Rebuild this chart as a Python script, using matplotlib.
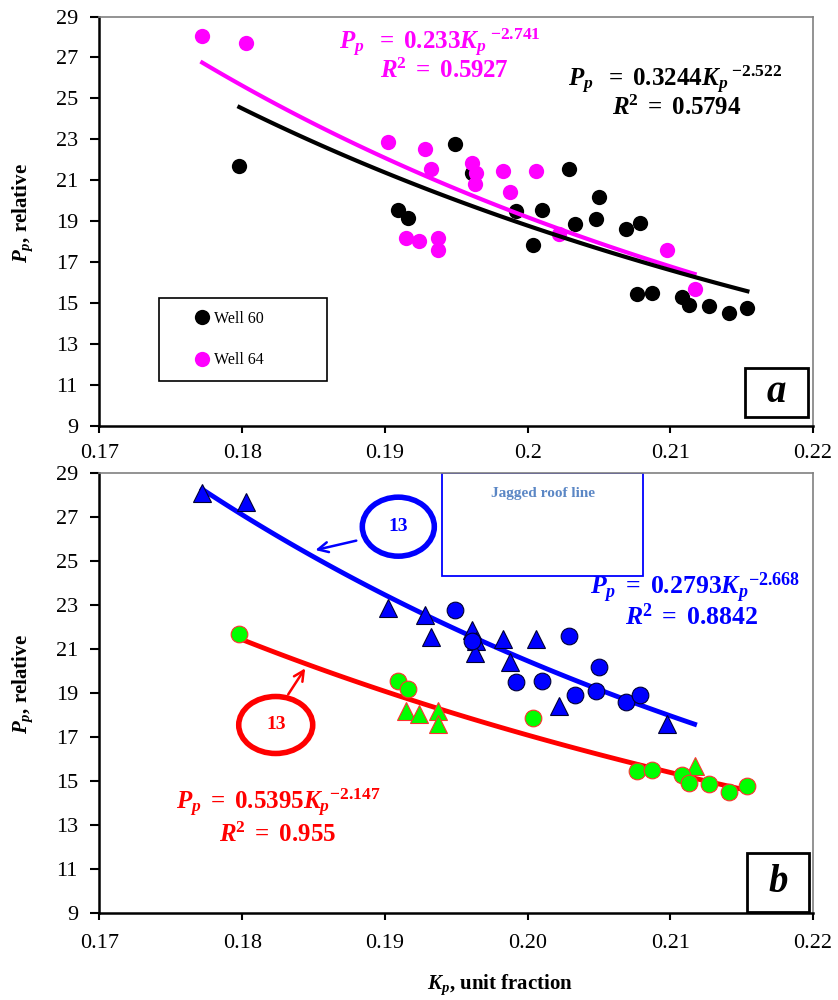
import numpy as np
import matplotlib
matplotlib.use('Agg')
import matplotlib.pyplot as plt
from matplotlib.patches import Ellipse, Rectangle

plt.rcParams['font.family'] = ['Liberation Serif', 'DejaVu Serif']
plt.rcParams['mathtext.fontset'] = 'custom'
plt.rcParams['mathtext.rm'] = 'Liberation Serif'
plt.rcParams['mathtext.it'] = 'Liberation Serif:italic'
plt.rcParams['mathtext.bf'] = 'Liberation Serif:bold'
plt.rcParams['mathtext.bfit'] = 'Liberation Serif:italic:bold'

# Well 60 (black in panel a); upper flags = points that go to the blue group in panel b
well60_kp = [0.1798, 0.1909, 0.1916, 0.1949, 0.1961, 0.1992, 0.2010, 0.2004, 0.2029, 0.2033, 0.2048,
             0.2050, 0.2069, 0.2079, 0.2077, 0.2087, 0.2108, 0.2113, 0.2127, 0.2141, 0.2154]
well60_pp = [21.68, 19.54, 19.16, 22.79, 21.36, 19.49, 19.54, 17.86, 21.57, 18.89, 19.10,
             20.19, 18.60, 18.92, 15.44, 15.52, 15.28, 14.90, 14.87, 14.50, 14.77]
well60_upper = [0, 0, 0, 1, 1, 1, 1, 0, 1, 1, 1, 1, 1, 1, 0, 0, 0, 0, 0, 0, 0]

# Well 64 (magenta in panel a)
well64_kp = [0.1772, 0.1803, 0.1902, 0.1928, 0.1932, 0.1915, 0.1924, 0.1937, 0.1937, 0.1961, 0.1964,
             0.1963, 0.1983, 0.2006, 0.1988, 0.2022, 0.2098, 0.2117]
well64_pp = [28.07, 27.70, 22.87, 22.55, 21.54, 18.16, 18.04, 18.19, 17.59, 21.86, 21.37,
             20.84, 21.45, 21.45, 20.43, 18.40, 17.59, 15.68]
well64_upper = [1, 1, 1, 1, 1, 0, 0, 0, 0, 1, 1, 1, 1, 1, 1, 1, 1, 0]

# power-law fits  Pp = a * Kp^b
fit60_a, fit60_b = 0.3244, -2.522
fit64_a, fit64_b = 0.233, -2.741
fit_blue_a, fit_blue_b = 0.2793, -2.668
fit_red_a, fit_red_b = 0.5395, -2.147

kp_ticks = [0.17, 0.18, 0.19, 0.20, 0.21, 0.22]
top_xlabels = ['0.17', '0.18', '0.19', '0.2', '0.21', '0.22']
bot_xlabels = ['0.17', '0.18', '0.19', '0.20', '0.21', '0.22']
pp_ticks = list(range(9, 30, 2))

k60 = np.array(well60_kp); p60 = np.array(well60_pp); u60 = np.array(well60_upper, bool)
k64 = np.array(well64_kp); p64 = np.array(well64_pp); u64 = np.array(well64_upper, bool)


def power_curve(kp, a, b):
    x = np.linspace(kp.min(), kp.max(), 100)
    return x, a * x ** b


def style_axes(ax, xlabels, xpad):
    ax.set_xlim(0.17, 0.22)
    ax.set_ylim(9, 29)
    ax.set_xticks(kp_ticks)
    ax.set_xticklabels(xlabels)
    ax.set_yticks(pp_ticks)
    ax.tick_params(axis='x', direction='out', length=5, width=1.5, labelsize=16, pad=xpad)
    ax.tick_params(axis='y', direction='out', length=6.5, width=1.5, labelsize=16, pad=9)
    for s in ['left', 'bottom']:
        ax.spines[s].set_linewidth(1.8)
    for s in ['top', 'right']:
        ax.spines[s].set_color('#808080')
        ax.spines[s].set_linewidth(1.2)
    ax.set_ylabel(r'$\mathbfit{P_p}$, relative', fontsize=15, fontweight='bold')
    ax.yaxis.set_label_coords(-0.09, 0.52)


fig = plt.figure(figsize=(8.38, 10), dpi=100)
ax1 = fig.add_axes([0.1187, 0.574, 0.8515, 0.4095])
ax2 = fig.add_axes([0.1187, 0.087, 0.8515, 0.44])

# ---- panel a
ax1.plot(k60, p60, 'o', color='black', ms=11, mec='none', label='Well 60')
ax1.plot(k64, p64, 'o', color='#ff00ff', ms=11, mec='none', label='Well 64')
x, y = power_curve(k64, fit64_a, fit64_b)
ax1.plot(x, y, color='#ff00ff', lw=3)
x, y = power_curve(k60, fit60_a, fit60_b)
ax1.plot(x, y, color='black', lw=3)
style_axes(ax1, top_xlabels, 8)

ax1.add_patch(Rectangle((0.0838, 0.1092), 0.2346, 0.2042, transform=ax1.transAxes,
                        fill=False, ec='black', lw=1.2))
ax1.legend(loc='center left', bbox_to_anchor=(0.1324, 0.2108), frameon=False, fontsize=11.5,
           borderpad=0, borderaxespad=0, handlelength=1.0, handletextpad=0.25,
           labelspacing=1.6, numpoints=1)

ax1.text(0.4772, 0.9353, r'$\mathbfit{P_p}\ \ \mathbf{=\ 0.233}\mathbfit{K_p}^{\ \mathbf{-2.741}}$',
         transform=ax1.transAxes, color='#ff00ff', fontsize=18, ha='center', va='center')
ax1.text(0.4827, 0.8669, r'$\mathbfit{R}^{\mathbf{2}}\mathbf{\ =\ 0.5927}$',
         transform=ax1.transAxes, color='#ff00ff', fontsize=18, ha='center', va='center')
ax1.text(0.8066, 0.845, r'$\mathbfit{P_p}\ \ \mathbf{=\ 0.3244}\mathbfit{K_p}^{\ \mathbf{-2.522}}$',
         transform=ax1.transAxes, color='black', fontsize=18, ha='center', va='center')
ax1.text(0.8094, 0.7766, r'$\mathbfit{R}^{\mathbf{2}}\mathbf{\ =\ 0.5794}$',
         transform=ax1.transAxes, color='black', fontsize=18, ha='center', va='center')

ax1.add_patch(Rectangle((0.9047, 0.0227), 0.0879, 0.1182, transform=ax1.transAxes,
                        fill=False, ec='black', lw=2))
ax1.text(0.9486, 0.0818, 'a', transform=ax1.transAxes, fontsize=28, fontweight='bold',
         fontstyle='italic', ha='center', va='center')

# ---- panel b
x, y = power_curve(k64, fit_blue_a, fit_blue_b)
ax2.plot(x, y, color='#0000ff', lw=3.5, zorder=2)
x, y = power_curve(k60, fit_red_a, fit_red_b)
ax2.plot(x, y, color='#ff0000', lw=3.5, zorder=2)

ax2.plot(k64[u64], p64[u64], '^', color='#0000ff', ms=12.5, mec='#000033', mew=0.8, zorder=3)
ax2.plot(k60[u60], p60[u60], 'o', color='#0000ff', ms=12, mec='#000033', mew=0.8, zorder=3)
ax2.plot(k64[~u64], p64[~u64], '^', color='#00ff00', ms=12.5, mec='#ff3030', mew=0.8, zorder=3)
ax2.plot(k60[~u60], p60[~u60], 'o', color='#00ff00', ms=12, mec='#ff3030', mew=0.8, zorder=3)
style_axes(ax2, bot_xlabels, 10)

ax2.add_patch(Rectangle((0.4804, 0.7666), 0.2817, 0.2327, transform=ax2.transAxes,
                        fill=False, ec='#0000ff', lw=1.3))
ax2.text(0.6216, 0.9523, 'Jagged roof line', transform=ax2.transAxes, color='#5b87c5',
         fontsize=11, fontweight='bold', ha='center', va='center')

ax2.add_patch(Ellipse((0.4188, 0.878), 0.1009, 0.1341, transform=ax2.transAxes,
                      fill=False, ec='#0000ff', lw=4))
ax2.text(0.4188, 0.878, '13', transform=ax2.transAxes, color='#0000ff', fontsize=14,
         fontweight='bold', ha='center', va='center')
ax2.annotate('', xy=(0.2988, 0.8234), xytext=(0.3637, 0.8477), xycoords='axes fraction',
             arrowprops=dict(arrowstyle='->', color='#0000ff', lw=1.8, mutation_scale=18))

ax2.add_patch(Ellipse((0.247, 0.4273), 0.1037, 0.1295, transform=ax2.transAxes,
                      fill=False, ec='#ff0000', lw=4))
ax2.text(0.247, 0.4273, '13', transform=ax2.transAxes, color='#ff0000', fontsize=14,
         fontweight='bold', ha='center', va='center')
ax2.annotate('', xy=(0.2904, 0.5614), xytext=(0.2624, 0.4916), xycoords='axes fraction',
             arrowprops=dict(arrowstyle='->', color='#ff0000', lw=1.8, mutation_scale=18))

ax2.text(0.8346, 0.7386, r'$\mathbfit{P_p}\mathbf{\ =\ 0.2793}\mathbfit{K_p}^{\mathbf{-2.668}}$',
         transform=ax2.transAxes, color='#0000ff', fontsize=18.5, ha='center', va='center')
ax2.text(0.8304, 0.6739, r'$\mathbfit{R}^{\mathbf{2}}\mathbf{\ =\ 0.8842}$',
         transform=ax2.transAxes, color='#0000ff', fontsize=18.5, ha='center', va='center')
ax2.text(0.2502, 0.25, r'$\mathbfit{P_p}\ \mathbf{=\ 0.5395}\mathbfit{K_p}^{\mathbf{-2.147}}$',
         transform=ax2.transAxes, color='#ff0000', fontsize=18, ha='center', va='center')
ax2.text(0.2502, 0.1773, r'$\mathbfit{R}^{\mathbf{2}}\mathbf{\ =\ 0.955}$',
         transform=ax2.transAxes, color='#ff0000', fontsize=18, ha='center', va='center')

ax2.add_patch(Rectangle((0.908, 0.002), 0.087, 0.134, transform=ax2.transAxes,
                        fill=False, ec='black', lw=2, zorder=4))
ax2.text(0.9515, 0.069, 'b', transform=ax2.transAxes, fontsize=28, fontweight='bold',
         fontstyle='italic', ha='center', va='center')

fig.text(500 / 838, 0.015, r'$\mathbfit{K_p}$, unit fraction', fontsize=15, fontweight='bold',
         ha='center', va='center')

fig.savefig('out.png', dpi=100)
